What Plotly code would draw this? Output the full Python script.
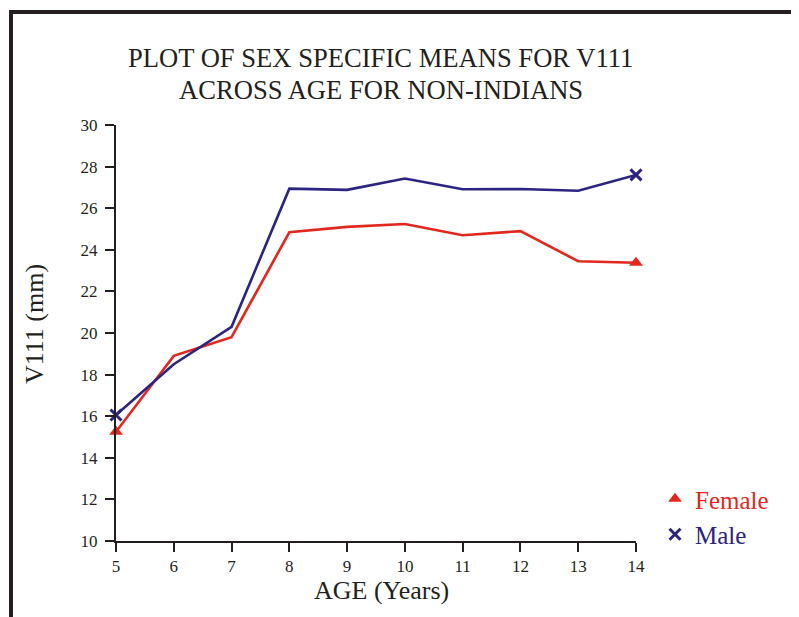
import plotly.graph_objects as go

ages = [5, 6, 7, 8, 9, 10, 11, 12, 13, 14]
female = [15.25, 18.9, 19.8, 24.84, 25.1, 25.24, 24.7, 24.9, 23.45, 23.38]
male = [16.06, 18.5, 20.3, 26.94, 26.88, 27.43, 26.91, 26.92, 26.84, 27.6]
x_ticks = [5, 6, 7, 8, 9, 10, 11, 12, 13, 14]
y_ticks = [10, 12, 14, 16, 18, 20, 22, 24, 26, 28, 30]

RED = "#e2271f"
BLUE = "#2b2480"
INK = "#231f20"
FONT = "Liberation Serif"

OFF = 8  # page body margin
# plot area in page pixels
L, R, T, B = 116, 636, 125, 541
W, H = 799 - OFF, 617 - OFF


def px_x(p):
    return (p - L) / (R - L)


def px_y(p):
    return (B - p) / (B - T)


fig = go.Figure()
fig.add_trace(go.Scatter(
    x=ages, y=female, mode="lines", showlegend=False,
    line=dict(color=RED, width=2.6),
))
fig.add_trace(go.Scatter(
    x=ages, y=male, mode="lines", showlegend=False,
    line=dict(color=BLUE, width=2.6),
))
# end markers
fig.add_trace(go.Scatter(
    x=[ages[0], ages[-1]], y=[female[0], female[-1]], mode="markers",
    name=f"<span style='color:{RED}'>Female</span>",
    marker=dict(symbol="triangle-up", size=12, color=RED, opacity=1),
    cliponaxis=False,
))
fig.add_trace(go.Scatter(
    x=[ages[0], ages[-1]], y=[male[0], male[-1]], mode="markers",
    name=f"<span style='color:{BLUE}'>Male</span>",
    marker=dict(symbol="x-thin", size=11, color=BLUE, opacity=1,
                line=dict(color=BLUE, width=3)),
    cliponaxis=False,
))

axis_common = dict(
    showgrid=False, zeroline=False, showline=True, linecolor=INK, linewidth=2,
    ticks="outside", ticklen=9, tickwidth=2, tickcolor=INK,
    tickfont=dict(family=FONT, size=17, color=INK),
)
fig.update_xaxes(range=[5, 14], tickvals=x_ticks, ticktext=[str(v) for v in x_ticks],
                 **axis_common)
fig.update_yaxes(range=[10, 30], tickvals=y_ticks, ticktext=[str(v) for v in y_ticks],
                 ticklabelstandoff=4, **axis_common)

ann = []
ann.append(dict(text="PLOT OF SEX SPECIFIC MEANS FOR V111", x=px_x(380.5), y=px_y(58),
                xref="paper", yref="paper", showarrow=False, xanchor="center", yanchor="middle",
                font=dict(family=FONT, size=26.6, color=INK)))
ann.append(dict(text="ACROSS AGE FOR NON-INDIANS", x=px_x(381), y=px_y(90),
                xref="paper", yref="paper", showarrow=False, xanchor="center", yanchor="middle",
                font=dict(family=FONT, size=26.6, color=INK)))
ann.append(dict(text="AGE (Years)", x=px_x(381), y=px_y(590),
                xref="paper", yref="paper", showarrow=False, xanchor="center", yanchor="middle",
                font=dict(family=FONT, size=26, color=INK)))
ann.append(dict(text="V111 (mm)", x=px_x(34), y=px_y(324), textangle=-90,
                xref="paper", yref="paper", showarrow=False, xanchor="center", yanchor="middle",
                font=dict(family=FONT, size=26, color=INK)))

shapes = [
    dict(type="line", xref="paper", yref="paper", x0=px_x(11), x1=px_x(11),
         y0=px_y(800), y1=px_y(10), line=dict(color=INK, width=4)),
    dict(type="line", xref="paper", yref="paper", x0=px_x(9), x1=px_x(830),
         y0=px_y(12), y1=px_y(12), line=dict(color=INK, width=4)),
]

fig.update_layout(
    width=W, height=H,
    margin=dict(l=L - OFF, r=W - (R - OFF), t=T - OFF, b=H - (B - OFF), autoexpand=False),
    paper_bgcolor="white", plot_bgcolor="white",
    font=dict(family=FONT, color=INK),
    annotations=ann, shapes=shapes,
    legend=dict(x=px_x(655), y=px_y(476), xanchor="left", yanchor="top",
                font=dict(family=FONT, size=25), bgcolor="rgba(0,0,0,0)",
                itemwidth=30, tracegroupgap=0),
)

fig.write_html("out.html")
